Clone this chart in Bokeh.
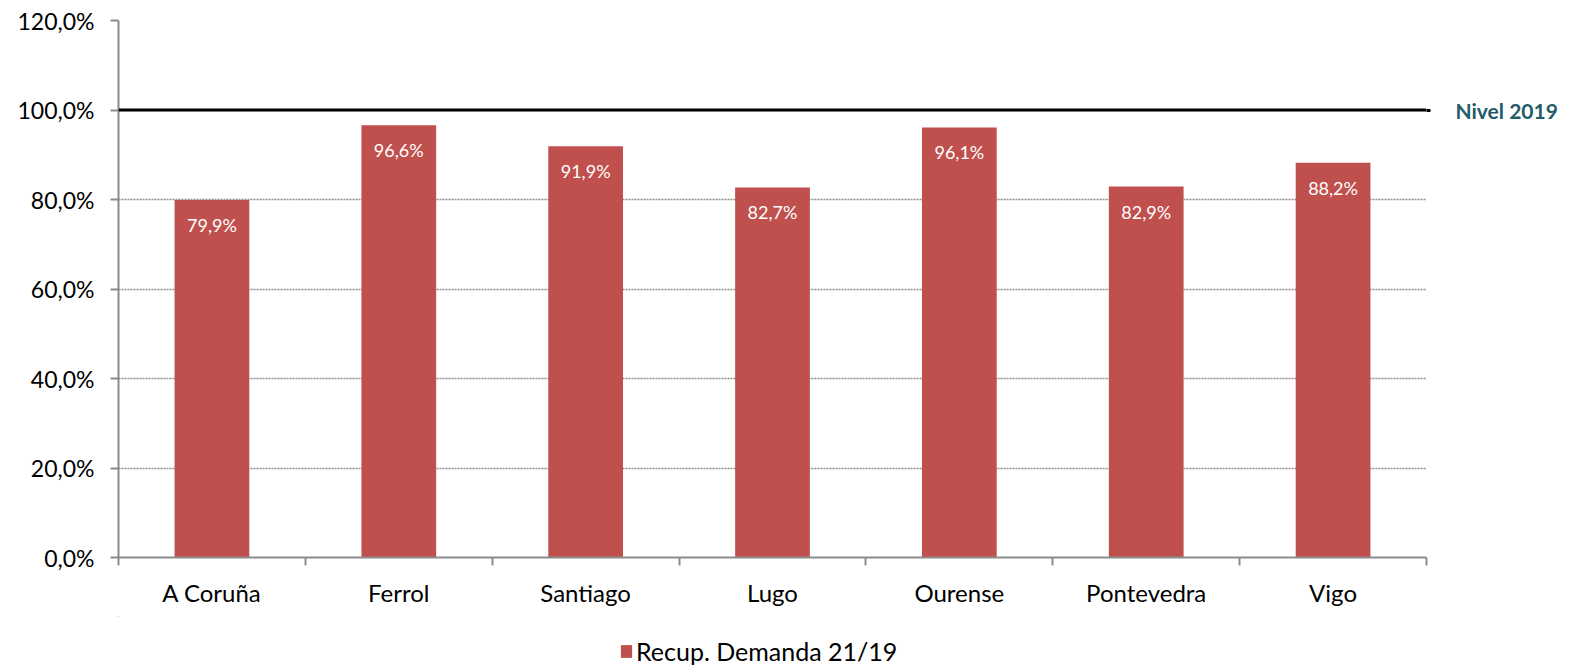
from bokeh.plotting import figure
from bokeh.layouts import column
from bokeh.models import (ColumnDataSource, Range1d, FixedTicker, Span, LinearAxis,
                          Legend, LegendItem)
from bokeh.core.properties import value
from bokeh.embed import file_html
from bokeh.resources import INLINE

# ---- data ----
categories = ["A Coruña", "Ferrol", "Santiago", "Lugo", "Ourense", "Pontevedra", "Vigo"]
recup_demanda = [79.9, 96.6, 91.9, 82.7, 96.1, 82.9, 88.2]
y_ticks = [0, 20, 40, 60, 80, 100, 120]
y_tick_labels = ["0,0%", "20,0%", "40,0%", "60,0%", "80,0%", "100,0%", "120,0%"]
nivel_2019 = 100
series_name = "Recup. Demanda 21/19"
level_label = "Nivel 2019"

FONT = "Lato"
BAR_COLOR = "#C0504D"
AXIS_COLOR = "#8C8C8C"

centers = [i + 0.5 for i in range(len(categories))]
bar_labels = [f"{v:.1f}%".replace(".", ",") for v in recup_demanda]
src = ColumnDataSource(dict(x=centers, top=recup_demanda, lab=bar_labels))

p = figure(width=1570, height=616, output_backend="svg", toolbar_location=None,
           x_range=Range1d(0, len(categories)), y_range=Range1d(0, 120),
           min_border_left=118, min_border_right=144, min_border_top=20,
           min_border_bottom=59)
p.outline_line_color = None
p.background_fill_color = "white"

bars = p.vbar(x="x", top="top", width=0.4, source=src, color=BAR_COLOR, line_color=None)
p.text(x="x", y="top", text="lab", source=src, text_color="white",
       text_font=value(FONT), text_font_size="18px", text_align="center",
       text_baseline="middle", y_offset=25)

# y axis
p.yaxis.ticker = FixedTicker(ticks=y_ticks)
p.yaxis.major_label_overrides = {t: l for t, l in zip(y_ticks, y_tick_labels)}
p.yaxis.major_label_text_font = FONT
p.yaxis.major_label_text_font_size = "23px"
p.yaxis.major_label_text_color = "black"
p.yaxis.axis_line_color = AXIS_COLOR
p.yaxis.axis_line_width = 2
p.yaxis.major_tick_line_color = AXIS_COLOR
p.yaxis.major_tick_line_width = 2
p.yaxis.major_tick_out = 8
p.yaxis.major_tick_in = 0
p.yaxis.minor_tick_line_color = None
p.yaxis.major_label_standoff = 16

# x axis
p.xaxis.ticker = FixedTicker(ticks=centers, minor_ticks=list(range(len(categories) + 1)))
p.xaxis.major_label_overrides = {c: n for c, n in zip(centers, categories)}
p.xaxis.major_label_text_font = FONT
p.xaxis.major_label_text_font_size = "24px"
p.xaxis.major_label_text_color = "black"
p.xaxis.axis_line_color = AXIS_COLOR
p.xaxis.axis_line_width = 2
p.xaxis.major_tick_line_color = None
p.xaxis.minor_tick_line_color = AXIS_COLOR
p.xaxis.minor_tick_line_width = 2
p.xaxis.minor_tick_out = 8
p.xaxis.minor_tick_in = 0
p.xaxis.major_label_standoff = 12

# grid
p.xgrid.grid_line_color = None
p.ygrid.ticker = FixedTicker(ticks=y_ticks)
p.ygrid.grid_line_color = AXIS_COLOR
p.ygrid.grid_line_dash = "2 1"
p.ygrid.grid_line_width = 1.5

# reference level line and its label (a right-hand axis with a single tick)
p.add_layout(Span(location=nivel_2019, dimension="width", line_color="black", line_width=3))
level_axis = LinearAxis(ticker=FixedTicker(ticks=[nivel_2019]),
                        major_label_overrides={nivel_2019: level_label},
                        axis_line_color=None, major_tick_line_color="black",
                        major_tick_line_width=3, major_tick_out=4, major_tick_in=0,
                        minor_tick_line_color=None, major_label_standoff=25,
                        major_label_text_font=FONT, major_label_text_font_size="21px",
                        major_label_text_font_style="bold",
                        major_label_text_color="#225B69")
p.add_layout(level_axis, "right")

# legend strip below the chart (its bars renderer lies outside the strip's visible ranges)
pl = figure(width=1570, height=50, output_backend="svg", toolbar_location=None,
            x_axis_type=None, y_axis_type=None, min_border=0,
            x_range=Range1d(100, 101), y_range=Range1d(-2, -1))
pl.outline_line_color = None
pl.xgrid.grid_line_color = None
pl.ygrid.grid_line_color = None
legend_bar = pl.vbar(x="x", top="top", width=0.4, source=src, color=BAR_COLOR, line_color=None)
legend = Legend(items=[LegendItem(label=series_name, renderers=[legend_bar])],
                orientation="horizontal", location=(501, 0),
                border_line_color=None, background_fill_alpha=0,
                label_text_font=FONT, label_text_font_size="25px",
                label_text_color="black",
                glyph_width=14, glyph_height=16, label_standoff=3,
                padding=0, margin=0)
pl.add_layout(legend)

layout = column(p, pl, spacing=0)
open("out.html", "w").write(file_html(layout, INLINE))
